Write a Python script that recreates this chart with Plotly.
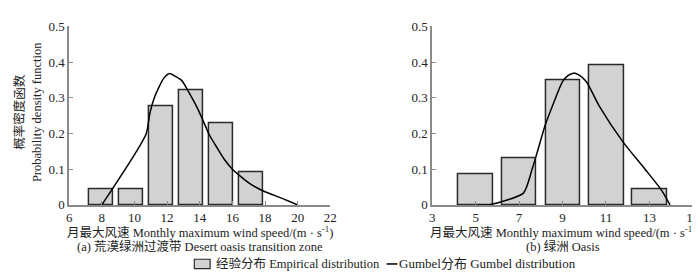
import plotly.graph_objects as go

# ---------------- data ----------------
# (a) Desert oasis transition zone
a_bin_centers = [7.93, 9.78, 11.62, 13.46, 15.30, 17.14]
a_density = [0.045, 0.045, 0.276, 0.320, 0.228, 0.091]
a_gumbel_x = [8.0, 10.7, 10.95, 11.2, 11.5, 11.8, 12.15, 12.5, 12.9, 13.3, 13.9, 14.2,
              14.6, 15.1, 15.5, 16.0, 16.5, 17.0, 17.5, 18.0, 19.0, 20.0]
a_gumbel_y = [0.0, 0.197, 0.258, 0.298, 0.330, 0.355, 0.368, 0.360, 0.348, 0.318, 0.267, 0.236,
              0.195, 0.157, 0.128, 0.100, 0.080, 0.062, 0.048, 0.037, 0.019, 0.0]

# (b) Oasis
b_bin_centers = [5.0, 7.0, 9.03, 11.04, 13.03]
b_density = [0.0865, 0.131, 0.349, 0.392, 0.044]
b_gumbel_x = [5.1, 5.6, 7.2, 7.6, 7.9, 8.2, 8.6, 9.0, 9.25, 9.5, 9.75, 10.1, 10.7, 11.8, 12.8, 13.55, 13.95]
b_gumbel_y = [0.0, 0.0, 0.033, 0.100, 0.161, 0.223, 0.287, 0.345, 0.362, 0.369, 0.364, 0.345,
              0.276, 0.175, 0.100, 0.042, 0.0]

a_ticks = [6, 8, 10, 12, 14, 16, 18, 20, 22]
b_ticks = [3, 5, 7, 9, 11, 13, 15]
y_ticks = [0, 0.1, 0.2, 0.3, 0.4, 0.5]
y_ticktext = ["0", "0.1", "0.2", "0.3", "0.4", "0.5"]

x_title = "月最大风速 Monthly maximum wind speed/(m · s<sup>-1</sup>)"
y_title = "概率密度函数<br>Probability density function"
sub_a = "(a) 荒漠绿洲过渡带 Desert oasis transition zone"
sub_b = "(b) 绿洲 Oasis"
name_emp = "经验分布 Empirical distribution"
name_gum = "Gumbel分布 Gumbel distribution"

FONT = "Liberation Serif, Times New Roman, Noto Sans CJK SC, serif"
BAR_FILL = "#d2d2d2"
BAR_LINE = "#2a2a2a"
AXIS_COL = "#8a8a8a"
TXT = "#222"
FS = 12.5

fig = go.Figure()

fig.add_trace(go.Bar(x=a_bin_centers, y=a_density, width=1.47, xaxis="x", yaxis="y",
                     marker=dict(color=BAR_FILL, line=dict(color=BAR_LINE, width=1.5)),
                     name=name_emp, showlegend=False))
fig.add_trace(go.Scatter(x=a_gumbel_x, y=a_gumbel_y, mode="lines", xaxis="x", yaxis="y",
                         line=dict(color="black", width=1.5, shape="spline", smoothing=0.6),
                         name=name_gum, showlegend=False))
fig.add_trace(go.Bar(x=b_bin_centers, y=b_density, width=1.6, xaxis="x2", yaxis="y2",
                     marker=dict(color=BAR_FILL, line=dict(color=BAR_LINE, width=1.5)),
                     name=name_emp, showlegend=False))
fig.add_trace(go.Scatter(x=b_gumbel_x, y=b_gumbel_y, mode="lines", xaxis="x2", yaxis="y2",
                         line=dict(color="black", width=1.5, shape="spline", smoothing=0.6),
                         name=name_gum, showlegend=False))

W, H = 700, 272
def py(p):  # pixel row -> paper y
    return 1 - p / H
def px(p):  # pixel column -> paper x
    return p / W

ydom = [py(201), py(12)]
common_x = dict(showgrid=False, zeroline=False, showline=True, linecolor=AXIS_COL, linewidth=1.5,
                ticks="inside", ticklen=4, tickcolor=AXIS_COL, tickwidth=1,
                tickfont=dict(size=13, color=TXT))
common_y = dict(showgrid=False, zeroline=False, showline=True, linecolor=AXIS_COL, linewidth=1.5,
                ticks="inside", ticklen=4, tickcolor=AXIS_COL, tickwidth=1, range=[0, 0.5],
                tickvals=y_ticks, ticktext=y_ticktext,
                tickfont=dict(size=13, color=TXT), domain=ydom)

A_DOM = [px(59), px(324)]
B_DOM = [px(427.3), px(691.7)]

fig.update_layout(
    width=W, height=H,
    margin=dict(l=0, r=0, t=0, b=0),
    paper_bgcolor="white", plot_bgcolor="white",
    font=dict(family=FONT, size=FS, color=TXT),
    bargap=0,
    showlegend=False,
    xaxis=dict(common_x, domain=A_DOM, range=[6, 22], tickvals=a_ticks, anchor="y"),
    yaxis=dict(common_y, anchor="x"),
    xaxis2=dict(common_x, domain=B_DOM, range=[3, 15], tickvals=b_ticks, anchor="y2"),
    yaxis2=dict(common_y, anchor="x2"),
)

def ann(text, x, y, xanchor="center", angle=0, size=FS):
    fig.add_annotation(text=text, x=x, y=y, xref="paper", yref="paper", showarrow=False,
                       xanchor=xanchor, yanchor="middle", textangle=angle,
                       font=dict(size=size, color=TXT, family=FONT), align="center")

# y-axis title (left panel only)
ann(y_title, px(17), py(103), angle=-90)
# x-axis titles
ann(x_title, sum(A_DOM) / 2, py(230))
ann(x_title, sum(B_DOM) / 2, py(230))
# panel captions
ann(sub_a, sum(A_DOM) / 2, py(245.5))
ann(sub_b, sum(B_DOM) / 2, py(245.5))

# legend (drawn below the panels)
LEG_Y = 263.5
fig.add_shape(type="rect", xref="paper", yref="paper",
              x0=px(186), x1=px(202), y0=py(268.5), y1=py(258.5),
              fillcolor=BAR_FILL, line=dict(color=BAR_LINE, width=1.2))
ann(name_emp, px(206), py(LEG_Y), xanchor="left")
fig.add_shape(type="line", xref="paper", yref="paper",
              x0=px(381), x1=px(392), y0=py(LEG_Y), y1=py(LEG_Y),
              line=dict(color="black", width=1.5))
ann(name_gum, px(392), py(LEG_Y), xanchor="left", size=13)

fig.write_html("out.html")
